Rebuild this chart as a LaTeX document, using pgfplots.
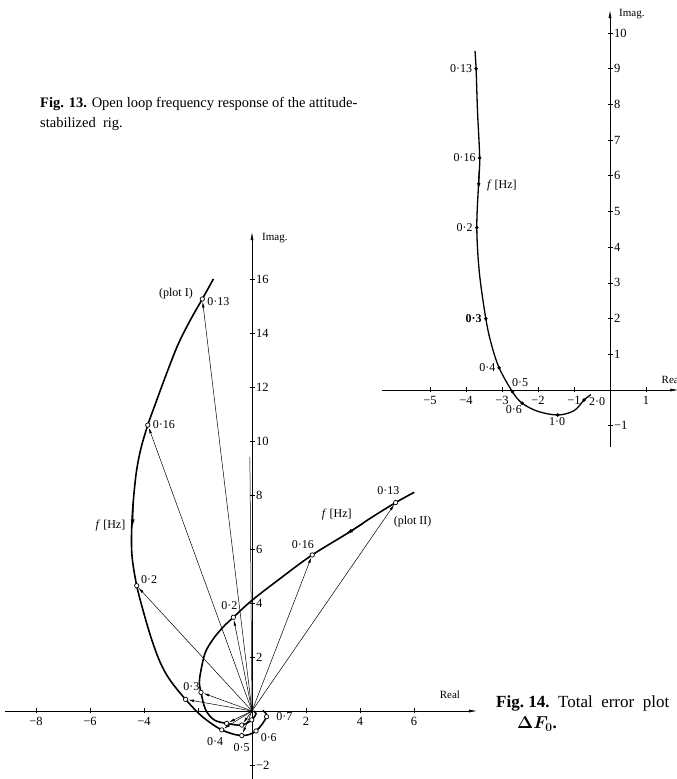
\documentclass[border=0pt]{standalone}
\usepackage{fontspec}
\setmainfont{Liberation Serif}
\usepackage{pgfplots}
\pgfplotsset{compat=1.18}
\usetikzlibrary{arrows.meta}
\tikzset{lab/.style={font=\fontsize{12}{14}\selectfont,inner sep=1pt}}
\pgfplotsset{
  nyq/.style={
    axis lines=middle,
    clip=false,
    axis line style={line width=0.6pt,-{Latex[length=8pt,width=3pt]}},
    tick align=center,
    major tick length=5pt,
    tick style={line width=0.6pt,black},
    ticklabel style={font=\fontsize{12.5}{14}\selectfont},
    yticklabel style={anchor=west,xshift=3pt},
    /pgf/number format/assume math mode=true,
  },
  curve/.style={smooth,tension=0.55,line width=1.6pt,black,no marks},
  pts/.style={only marks,mark=*,mark size=2.2pt,mark options={fill=white,draw=black,line width=0.7pt}},
  fan/.style={line width=0.5pt,black,no marks,-{Latex[length=6pt,width=2.6pt]},shorten >=2.5pt},
}
\begin{document}
\begin{tikzpicture}
\useasboundingbox (0pt,0pt) rectangle (677pt,779pt);
% captions
\node[anchor=base west,inner sep=0,font=\fontsize{14.5}{16}\selectfont] at (40pt,671pt) {\textbf{Fig. 13.} Open loop frequency response of the attitude-};
\node[anchor=base west,inner sep=0,font=\fontsize{14.5}{16}\selectfont] at (40pt,651pt) {stabilized\ \ rig.};
\node[anchor=base west,inner sep=0,font=\fontsize{17}{19}\selectfont] at (496pt,71pt) {\textbf{Fig.\ 14.}\ \ Total\ \ error\ \ plot};
\node[anchor=base west,inner sep=0,font=\fontsize{17}{19}\selectfont] at (517pt,50pt) {\textbf{\boldmath$\Delta F_0$.}};

% ---------------- Fig. 13 ----------------
\begin{axis}[nyq,
  at={(381.76pt,331.88pt)}, anchor=south west,
  x=36pt, y=35.7pt,
  xmin=-6.34, xmax=1.9, ymin=-1.6, ymax=10.64,
  xtick={-5,-4,-3,-2,-1,1}, xticklabels={−5,−4,−3,−2,−1,1},
  ytick={-1,1,2,3,4,5,6,7,8,9,10}, yticklabels={−1,1,2,3,4,5,6,7,8,9,10},
]
\addplot[curve,line width=1.3pt] coordinates {
 (-3.75,9.5) (-3.72,9.0) (-3.68,7.8) (-3.62,6.5) (-3.65,5.8) (-3.70,4.55)
 (-3.63,3.3) (-3.45,2.0) (-3.3,1.3) (-3.08,0.62) (-2.71,-0.05) (-2.44,-0.37)
 (-2.0,-0.6) (-1.45,-0.7) (-1.0,-0.58) (-0.72,-0.28) (-0.53,-0.13)};
\addplot[black,line width=1.1pt,-{Latex[length=7pt,width=3.5pt]}] coordinates {(-3.63,6.15) (-3.655,5.6)};
\addplot[pts,mark size=1.5pt,mark options={line width=0.5pt}] coordinates {
 (-3.72,9.0) (-3.62,6.5) (-3.70,4.55) (-3.45,2.0) (-3.08,0.62) (-2.71,-0.05)
 (-2.44,-0.37) (-1.45,-0.7) (-0.72,-0.28)};
\node[lab,anchor=east] at (axis cs:-3.8,9.0) {0·13};
\node[lab,anchor=east] at (axis cs:-3.7,6.5) {0·16};
\node[lab,anchor=west] at (axis cs:-3.45,5.74) {\textit{f} [Hz]};
\node[lab,anchor=east] at (axis cs:-3.78,4.55) {0·2};
\node[lab,anchor=east] at (axis cs:-3.53,2.0) {\textbf{0·3}};
\node[lab,anchor=east] at (axis cs:-3.15,0.62) {0·4};
\node[lab] at (axis cs:-2.5,0.22) {0·5};
\node[lab] at (axis cs:-2.67,-0.55) {0·6};
\node[lab] at (axis cs:-1.47,-0.88) {1·0};
\node[lab] at (axis cs:-0.36,-0.32) {2·0};
\node[anchor=west,font=\fontsize{11}{13}\selectfont,inner sep=0] at (axis cs:0.25,10.53) {Imag.};
\node[anchor=west,font=\fontsize{11}{13}\selectfont,inner sep=0] at (axis cs:1.43,0.3) {Real};
\end{axis}

% ---------------- Fig. 14 ----------------
\begin{axis}[nyq,
  at={(4.95pt,-0.85pt)}, anchor=south west,
  x=27pt, y=27pt,
  xmin=-9.15, xmax=8.33, ymin=-2.55, ymax=17.74,
  xtick={-8,-6,-4,-2,2,4,6}, xticklabels={−8,−6,−4,,2,4,6},
  ytick={-2,2,4,6,8,10,12,14,16}, yticklabels={−2,2,4,6,8,10,12,14,16},
]
% plot I
\addplot[curve] coordinates {
 (-1.43,16.0) (-1.84,15.26) (-2.3,14.45) (-2.75,13.55) (-3.22,12.35) (-3.55,11.45)
 (-3.86,10.59) (-4.12,9.7) (-4.29,8.8) (-4.41,7.6) (-4.46,6.6) (-4.44,5.7)
 (-4.27,4.64) (-4.0,3.6) (-3.71,2.63) (-3.4,1.8) (-3.04,1.15) (-2.46,0.43)
 (-1.85,-0.2) (-1.12,-0.70) (-0.38,-0.91) (0.15,-0.74) (0.54,-0.21) (0.4,0.02)};
% plot II
\addplot[curve] coordinates {
 (6.01,8.1) (5.32,7.72) (4.4,7.15) (3.63,6.64) (2.23,5.78) (1.1,4.95) (0,4.1)
 (-0.69,3.47) (-1.06,3.12) (-1.45,2.65) (-1.74,2.14) (-1.9,1.45) (-1.95,1.05)
 (-1.89,0.69) (-1.72,0.05) (-1.4,-0.33) (-0.94,-0.46) (-0.38,-0.52) (-0.01,-0.33)
 (0.15,-0.1) (0.05,0)};
% direction arrows on the curves
\addplot[black,line width=1.2pt,-{Latex[length=8pt,width=4pt]}] coordinates {(-4.40,7.7) (-4.43,6.8)};
\addplot[black,line width=1.2pt,-{Latex[length=8pt,width=4pt]}] coordinates {(4.1,6.94) (3.45,6.53)};
% fan of vectors from the origin
\addplot[fan] coordinates {(0,0) (-1.84,15.26)};
\addplot[fan] coordinates {(0,0) (-3.86,10.59)};
\addplot[fan] coordinates {(0,0) (-4.27,4.64)};
\addplot[fan] coordinates {(0,0) (-2.46,0.43)};
\addplot[fan] coordinates {(0,0) (-1.12,-0.70)};
\addplot[fan] coordinates {(0,0) (-0.38,-0.91)};
\addplot[fan] coordinates {(0,0) (5.32,7.72)};
\addplot[fan] coordinates {(0,0) (2.23,5.78)};
\addplot[fan] coordinates {(0,0) (-0.69,3.47)};
\addplot[fan] coordinates {(0,0) (-1.89,0.69)};
\addplot[fan] coordinates {(0,0) (-0.94,-0.46)};
\addplot[fan] coordinates {(0,0) (-0.38,-0.52)};
\addplot[fan,-] coordinates {(0,0) (-0.08,9.5)};
% points
\addplot[pts] coordinates {
 (-1.84,15.26) (-3.86,10.59) (-4.27,4.64) (-2.46,0.43) (-1.12,-0.70)
 (-0.38,-0.91) (0.15,-0.74) (0.54,-0.21)};
\addplot[pts] coordinates {
 (5.32,7.72) (2.23,5.78) (-0.69,3.47) (-1.89,0.69) (-0.94,-0.46)
 (-0.38,-0.52) (-0.01,-0.33)};
% labels
\node[lab,anchor=east] at (axis cs:-2.15,15.45) {(plot I)};
\node[lab,anchor=west] at (axis cs:-1.7,15.15) {0·13};
\node[lab,anchor=west] at (axis cs:-3.72,10.6) {0·16};
\node[lab,anchor=east] at (axis cs:-4.65,6.85) {\textit{f} [Hz]};
\node[lab,anchor=west] at (axis cs:-4.15,4.85) {0·2};
\node[lab] at (axis cs:-2.25,0.9) {0·3};
\node[lab] at (axis cs:-1.37,-1.12) {0·4};
\node[lab] at (axis cs:-0.38,-1.35) {0·5};
\node[lab] at (axis cs:0.62,-0.98) {0·6};
\node[lab] at (axis cs:1.2,-0.22) {0·7};
\node[lab] at (axis cs:-0.84,3.92) {0·2};
\node[lab] at (axis cs:1.88,6.15) {0·16};
\node[lab] at (axis cs:3.14,7.28) {\textit{f} [Hz]};
\node[lab] at (axis cs:5.05,8.15) {0·13};
\node[lab] at (axis cs:5.95,7.0) {(plot II)};
\node[anchor=west,font=\fontsize{11}{13}\selectfont,inner sep=0] at (axis cs:0.37,17.52) {Imag.};
\node[font=\fontsize{11}{13}\selectfont,inner sep=0] at (axis cs:7.33,0.6) {Real};
\end{axis}
\end{tikzpicture}
\end{document}
